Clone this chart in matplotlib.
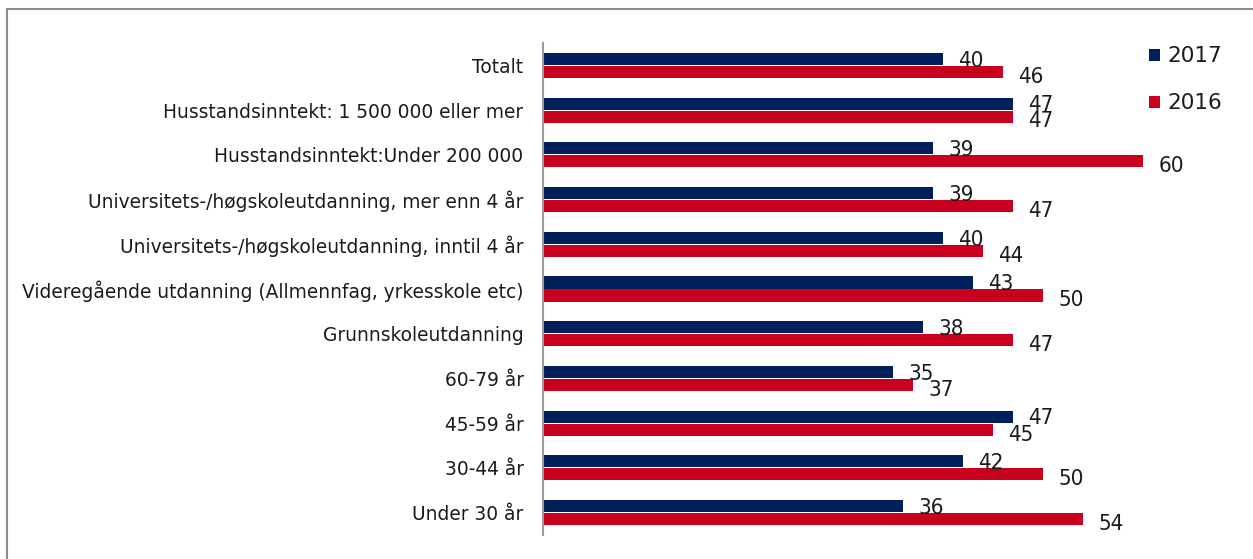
import matplotlib
matplotlib.use("Agg")
import matplotlib.pyplot as plt
from matplotlib.patches import Rectangle
import numpy as np

categories = [
    "Totalt",
    "Husstandsinntekt: 1 500 000 eller mer",
    "Husstandsinntekt:Under 200 000",
    "Universitets-/høgskoleutdanning, mer enn 4 år",
    "Universitets-/høgskoleutdanning, inntil 4 år",
    "Videregående utdanning (Allmennfag, yrkesskole etc)",
    "Grunnskoleutdanning",
    "60-79 år",
    "45-59 år",
    "30-44 år",
    "Under 30 år",
]
values_2017 = [40, 47, 39, 39, 40, 43, 38, 35, 47, 42, 36]
values_2016 = [46, 47, 60, 47, 44, 50, 47, 37, 45, 50, 54]
series_names = ["2017", "2016"]
colors = ["#00205B", "#C8001E"]

W, H = 1253, 559
fig = plt.figure(figsize=(W / 100, H / 100), dpi=100)
fig.patch.set_facecolor("white")

# outer frame
fig.add_artist(Rectangle((7 / W, -0.1), 1.2, 1 - 9 / H + 0.1, transform=fig.transFigure,
                         fill=False, edgecolor="#8c8c8c", linewidth=1.5))

ax = fig.add_axes([543 / W, 1 - 535 / H, 700 / W, (535 - 43) / H])
n = len(categories)
y = np.arange(n)
bh = 0.27
ax.barh(y - bh / 2 - 0.01, values_2017, height=bh, color=colors[0], label=series_names[0])
ax.barh(y + bh / 2 + 0.01, values_2016, height=bh, color=colors[1], label=series_names[1])
ax.set_ylim(n - 0.5, -0.5)
ax.set_xlim(0, 70)

vfont = dict(fontsize=16, family="DejaVu Sans", fontstretch="condensed", color="#1a1a1a")
for i in range(n):
    ax.annotate(str(values_2017[i]), (values_2017[i], y[i] - bh / 2 + 0.03), xytext=(11, 0),
                textcoords="offset points", va="center", ha="left", **vfont)
    ax.annotate(str(values_2016[i]), (values_2016[i], y[i] + bh / 2 + 0.12), xytext=(11, 0),
                textcoords="offset points", va="center", ha="left", **vfont)

ax.set_yticks(y)
ax.set_yticklabels(categories, fontsize=13.4, family="DejaVu Sans", color="#1a1a1a")
ax.tick_params(axis="y", length=0, pad=14)
ax.set_xticks([])
for s in ["top", "right", "bottom"]:
    ax.spines[s].set_visible(False)
ax.spines["left"].set_color("#999999")
ax.spines["left"].set_linewidth(1.5)

leg = fig.legend(loc="upper left", bbox_to_anchor=(1130 / W, 1 - 27 / H), frameon=False,
                 fontsize=15.5, handlelength=0.5, handleheight=0.5, labelspacing=1.25,
                 handletextpad=0.35)
for t in leg.get_texts():
    t.set_color("#1a1a1a")

fig.savefig("out.png", dpi=100, facecolor="white")
